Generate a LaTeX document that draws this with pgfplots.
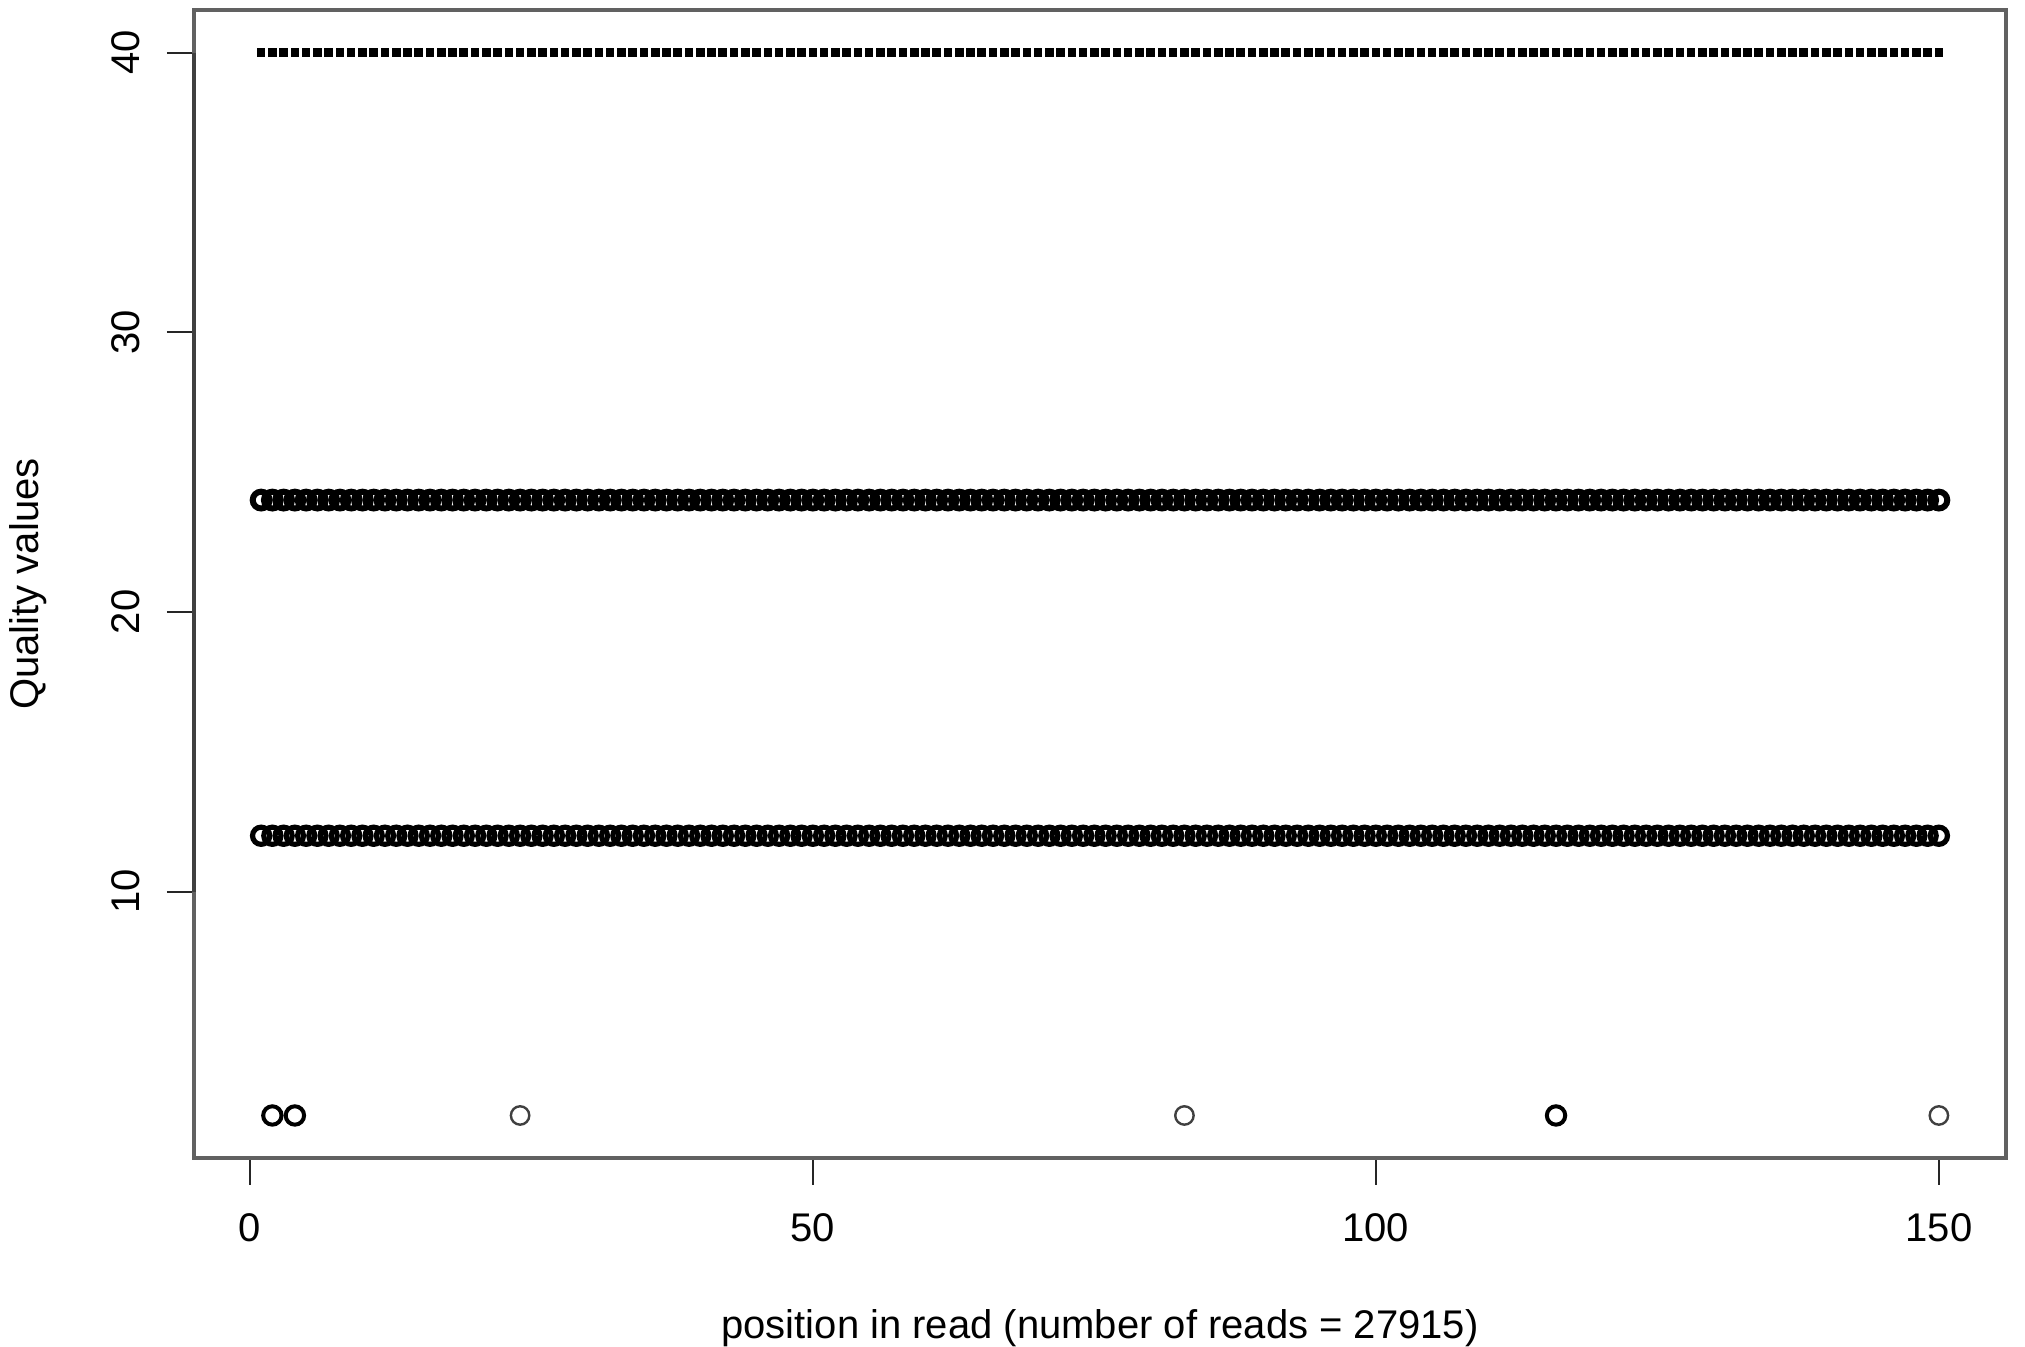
\documentclass[border=0pt]{standalone}
\usepackage{fontspec}
\setmainfont{Liberation Sans}
\usepackage{pgfplots}
\pgfplotsset{compat=1.18}
\usepackage{pgfplotstable}

\pgfplotstableread{
x q40 q24 q12
1 40 24 12
2 40 24 12
3 40 24 12
4 40 24 12
5 40 24 12
6 40 24 12
7 40 24 12
8 40 24 12
9 40 24 12
10 40 24 12
11 40 24 12
12 40 24 12
13 40 24 12
14 40 24 12
15 40 24 12
16 40 24 12
17 40 24 12
18 40 24 12
19 40 24 12
20 40 24 12
21 40 24 12
22 40 24 12
23 40 24 12
24 40 24 12
25 40 24 12
26 40 24 12
27 40 24 12
28 40 24 12
29 40 24 12
30 40 24 12
31 40 24 12
32 40 24 12
33 40 24 12
34 40 24 12
35 40 24 12
36 40 24 12
37 40 24 12
38 40 24 12
39 40 24 12
40 40 24 12
41 40 24 12
42 40 24 12
43 40 24 12
44 40 24 12
45 40 24 12
46 40 24 12
47 40 24 12
48 40 24 12
49 40 24 12
50 40 24 12
51 40 24 12
52 40 24 12
53 40 24 12
54 40 24 12
55 40 24 12
56 40 24 12
57 40 24 12
58 40 24 12
59 40 24 12
60 40 24 12
61 40 24 12
62 40 24 12
63 40 24 12
64 40 24 12
65 40 24 12
66 40 24 12
67 40 24 12
68 40 24 12
69 40 24 12
70 40 24 12
71 40 24 12
72 40 24 12
73 40 24 12
74 40 24 12
75 40 24 12
76 40 24 12
77 40 24 12
78 40 24 12
79 40 24 12
80 40 24 12
81 40 24 12
82 40 24 12
83 40 24 12
84 40 24 12
85 40 24 12
86 40 24 12
87 40 24 12
88 40 24 12
89 40 24 12
90 40 24 12
91 40 24 12
92 40 24 12
93 40 24 12
94 40 24 12
95 40 24 12
96 40 24 12
97 40 24 12
98 40 24 12
99 40 24 12
100 40 24 12
101 40 24 12
102 40 24 12
103 40 24 12
104 40 24 12
105 40 24 12
106 40 24 12
107 40 24 12
108 40 24 12
109 40 24 12
110 40 24 12
111 40 24 12
112 40 24 12
113 40 24 12
114 40 24 12
115 40 24 12
116 40 24 12
117 40 24 12
118 40 24 12
119 40 24 12
120 40 24 12
121 40 24 12
122 40 24 12
123 40 24 12
124 40 24 12
125 40 24 12
126 40 24 12
127 40 24 12
128 40 24 12
129 40 24 12
130 40 24 12
131 40 24 12
132 40 24 12
133 40 24 12
134 40 24 12
135 40 24 12
136 40 24 12
137 40 24 12
138 40 24 12
139 40 24 12
140 40 24 12
141 40 24 12
142 40 24 12
143 40 24 12
144 40 24 12
145 40 24 12
146 40 24 12
147 40 24 12
148 40 24 12
149 40 24 12
150 40 24 12
}\qdata

\pgfplotstableread{
x y
2 2
4 2
116 2
}\lowbold

\pgfplotstableread{
x y
24 2
83 2
150 2
}\lowthin

\begin{document}
\begin{tikzpicture}
\path[use as bounding box] (0,0) rectangle (506.25pt,336.75pt);
\begin{axis}[
  at={(48.5pt,47.25pt)}, anchor=south west,
  scale only axis, width=453pt, height=287pt,
  xmin=-4.96, xmax=155.96, ymin=0.48, ymax=41.52,
  clip=false,
  axis line style={draw=black!62, line width=0.8pt},
  xtick={0,50,100,150}, ytick={10,20,30,40},
  xtick pos=bottom, ytick pos=left,
  tick align=outside, major tick length=6.75pt,
  tick style={black!85, line width=0.5pt},
  ticklabel style={font=\fontsize{10}{12}\selectfont},
  /pgf/number format/assume math mode=true,
  xticklabel style={anchor=north, inner sep=0pt, yshift=-7pt},
  yticklabel style={rotate=90, anchor=south, inner sep=0pt, yshift=6.5pt},
  xlabel={position in read (number of reads = 27915)},
  ylabel={Quality values},
  label style={font=\fontsize{10}{12}\selectfont},
  xlabel style={at={(axis description cs:0.5,0)}, anchor=center, yshift=-42.5pt},
  ylabel style={at={(axis description cs:0,0.5)}, anchor=center, yshift=41.5pt},
]
\draw[black!75, line width=1pt] (axis cs:-4.96,10) -- (axis cs:-4.96,40);
\addplot[only marks, mark=square*, mark size=0.95pt, black, mark options={fill=black, draw=black, line width=0pt}] table[x=x, y=q40] {\qdata};
\addplot[only marks, mark=o, mark size=2.1pt, black, mark options={line width=1.5pt}] table[x=x, y=q24] {\qdata};
\addplot[only marks, mark=o, mark size=2.15pt, black, mark options={line width=1.3pt}] table[x=x, y=q12] {\qdata};
\addplot[only marks, mark=o, mark size=2.3pt, black, mark options={line width=1pt}] table[x=x, y=y] {\lowbold};
\addplot[only marks, mark=o, mark size=2.3pt, black!75, mark options={line width=0.6pt}] table[x=x, y=y] {\lowthin};
\end{axis}
\end{tikzpicture}
\end{document}
